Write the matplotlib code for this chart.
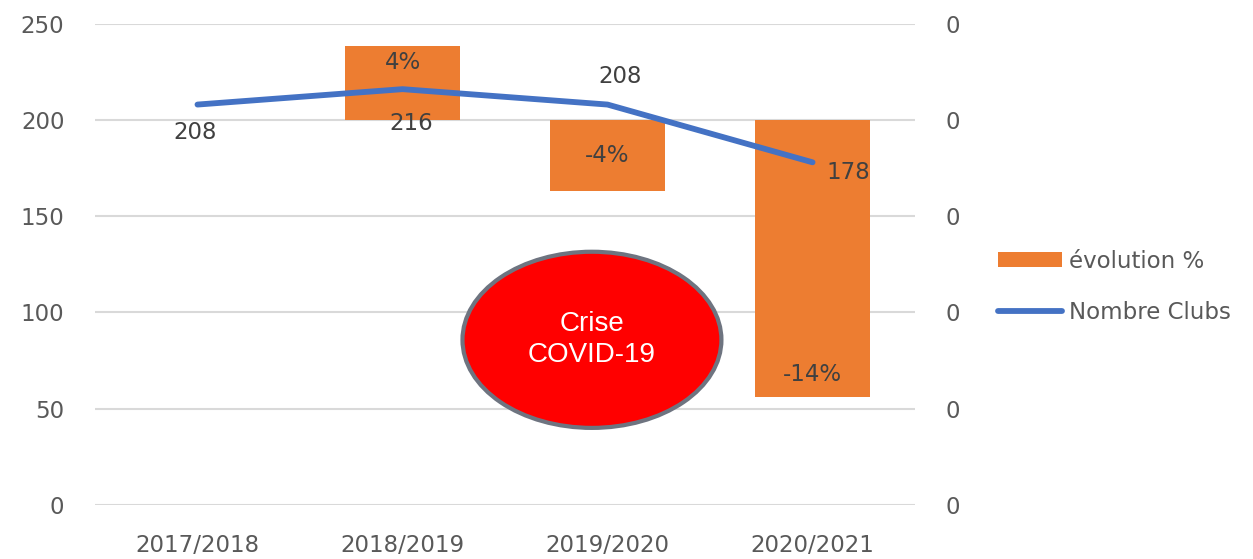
import matplotlib.pyplot as plt
from matplotlib.patches import Ellipse, Patch
from matplotlib.lines import Line2D
from matplotlib.ticker import FuncFormatter

# data
seasons = ["2017/2018", "2018/2019", "2019/2020", "2020/2021"]
clubs = [208, 216, 208, 178]
evolution = [None, 0.0385, -0.037, -0.144]
evolution_labels = ["", "4%", "-4%", "-14%"]

ORANGE = "#ED7D31"
BLUE = "#4472C4"
GREY_TXT = "#595959"
DARK_TXT = "#404040"
FS = 16.5

plt.rcParams['font.family'] = ['DejaVu Sans']

fig = plt.figure(figsize=(12.53, 5.59), dpi=100)
ax2 = fig.add_axes([0.0758, 0.0966, 0.6545, 0.861])  # bars, secondary scale
ax = ax2.twinx()  # line, primary scale on the left

x = list(range(len(seasons)))

# bars on secondary (percent) scale
bx = [i for i, v in zip(x, evolution) if v is not None]
bv = [v for v in evolution if v is not None]
ax2.bar(bx, bv, width=0.56, color=ORANGE, zorder=2)
ax2.set_ylim(-0.2, 0.05)
ax2.set_yticks([-0.2, -0.15, -0.1, -0.05, 0, 0.05])
ax2.yaxis.set_major_formatter(FuncFormatter(lambda v, p: f"{round(v):d}"))
ax2.yaxis.tick_right()
ax2.grid(axis='y', color="#D9D9D9", linewidth=1.5, zorder=0)
ax2.set_axisbelow(True)
# label offset (points) from the bar end
bar_off = [0, -12, 26, 16]
for i, v, lab, off in zip(x, evolution, evolution_labels, bar_off):
    if v is None:
        continue
    ax2.annotate(lab, (i, v), xytext=(0, off), textcoords='offset points',
                 ha='center', va='center', fontsize=FS, color=DARK_TXT)

# line on primary scale (left)
ax.plot(x, clubs, color=BLUE, linewidth=4.2, solid_capstyle='round', zorder=3)
ax.set_ylim(0, 250)
ax.set_yticks([0, 50, 100, 150, 200, 250])
ax.yaxis.tick_left()
offsets = [(-2, -20), (6, -25), (9, 20), (26, -7)]
for i, v, (dx, dy) in zip(x, clubs, offsets):
    ax.annotate(str(v), (i, v), xytext=(dx, dy), textcoords='offset points',
                ha='center', va='center', fontsize=FS, color=DARK_TXT)

ax.set_zorder(ax2.get_zorder() + 1)
ax.patch.set_visible(False)

ax2.set_xlim(-0.5, 3.5)
ax2.set_xticks(x)
ax2.set_xticklabels(seasons)

for a in (ax, ax2):
    for s in a.spines.values():
        s.set_visible(False)
    a.tick_params(length=0, labelsize=FS, labelcolor=GREY_TXT)
ax.tick_params(axis='y', pad=22)
ax2.tick_params(axis='y', pad=22)
ax2.tick_params(axis='x', pad=21)

# COVID ellipse
ax.add_patch(Ellipse((1.924, 85.8), 1.263, 91.5, facecolor="#FF0000",
                     edgecolor="#6E7480", linewidth=3, zorder=5))
ax.text(1.924, 85.8, "Crise\nCOVID-19", ha='center', va='center', color='white',
        fontsize=20, family=['Liberation Sans', 'DejaVu Sans'], zorder=6,
        linespacing=1.25)

handles = [Patch(facecolor=ORANGE), Line2D([], [], color=BLUE, linewidth=4.2, solid_capstyle='round')]
fig.legend(handles, ["évolution %", "Nombre Clubs"], loc='center left',
           bbox_to_anchor=(0.7965, 0.4866), frameon=False, fontsize=FS,
           labelcolor=GREY_TXT, handlelength=2.8, handleheight=0.65,
           handletextpad=0.3, labelspacing=1.25, borderpad=0, borderaxespad=0)

fig.savefig("out.png", dpi=100)
